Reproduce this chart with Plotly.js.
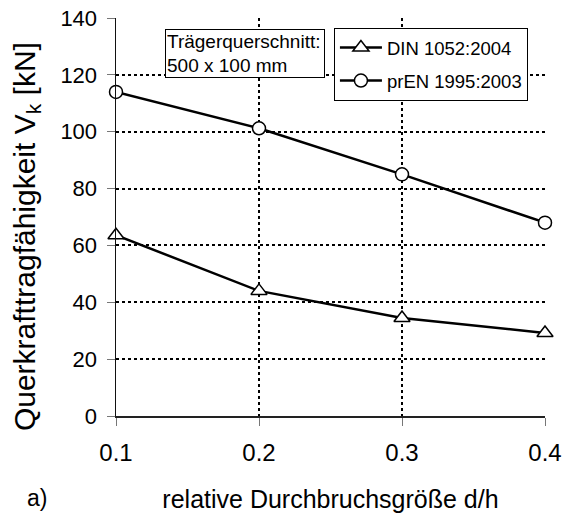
<!DOCTYPE html>
<html>
<head>
<meta charset="utf-8">
<script src="https://cdn.plot.ly/plotly-3.0.1.min.js"></script>
<style>body{margin:0;padding:0;background:#fff;} #chart{width:565px;height:514px;}</style>
</head>
<body>
<div id="chart"></div>
<script>
const xValues = [0.1, 0.2, 0.3, 0.4];
const dinValues = [63.6, 44, 34.5, 29.2];
const prenValues = [114, 101.2, 85, 68];
const seriesNames = ["DIN 1052:2004", "prEN 1995:2003"];
const xTicks = [0.1, 0.2, 0.3, 0.4];
const xTickLabels = ["0.1", "0.2", "0.3", "0.4"];
const yTicks = [0, 20, 40, 60, 80, 100, 120, 140];
const yTitle = "Querkrafttragfähigkeit V<sub>k</sub> [kN]";
const xTitle = "relative Durchbruchsgröße d/h";
const boxText = "Trägerquerschnitt:<br>500 x 100 mm";
const panelLabel = "a)";

const fontFam = "Liberation Sans, Arial, sans-serif";

const traces = [
  {
    x: xValues, y: dinValues, name: seriesNames[0], mode: "lines+markers",
    legendgroup: "g1", cliponaxis: false,
    line: {color: "#000", width: 2.5},
    marker: {symbol: "triangle-up", size: 14, color: "#fff", line: {color: "#000", width: 1.5}}
  },
  {
    x: xValues, y: prenValues, name: seriesNames[1], mode: "lines+markers",
    legendgroup: "g2", cliponaxis: false,
    line: {color: "#000", width: 2.5},
    marker: {symbol: "circle", size: 13, color: "#fff", line: {color: "#000", width: 1.5}}
  }
];

const layout = {
  width: 565, height: 514,
  margin: {l: 116, r: 20, t: 18, b: 98},
  paper_bgcolor: "#fff", plot_bgcolor: "#fff",
  font: {family: fontFam, color: "#000", size: 22},
  showlegend: true,
  legend: {
    x: 0.508, y: 0.975, xanchor: "left", yanchor: "top",
    bordercolor: "#000", borderwidth: 1, bgcolor: "#fff",
    font: {size: 18.5, family: fontFam},
    traceorder: "grouped", tracegroupgap: 6, itemwidth: 42
  },
  xaxis: {
    range: [0.1, 0.4], tickvals: xTicks, ticktext: xTickLabels,
    showline: true, linecolor: "#222", linewidth: 2,
    ticks: "outside", ticklen: 8, tickcolor: "#777", tickwidth: 1,
    ticklabelstandoff: 6,
    showgrid: true, gridcolor: "#000", gridwidth: 2, griddash: "dot",
    zeroline: false,
    tickfont: {size: 24},
    title: {text: xTitle, font: {size: 25}, standoff: 26}
  },
  yaxis: {
    range: [0, 140], tickvals: yTicks,
    showline: true, linecolor: "#111", linewidth: 1.5,
    ticks: "outside", ticklen: 8, tickcolor: "#777", tickwidth: 1,
    ticklabelstandoff: 5,
    showgrid: true, gridcolor: "#000", gridwidth: 2, griddash: "dot",
    zeroline: false,
    tickfont: {size: 22}
  },
  annotations: [
    {
      xref: "paper", yref: "paper", x: -0.2098, y: 0.452, xanchor: "center", yanchor: "middle",
      text: yTitle, textangle: -90, showarrow: false,
      font: {size: 30, family: fontFam}
    },
    {
      xref: "paper", yref: "paper", x: 0.114, y: 0.972, xanchor: "left", yanchor: "top",
      text: boxText, showarrow: false, align: "left",
      width: 156, height: 45,
      font: {size: 19, family: fontFam},
      bordercolor: "#000", borderwidth: 1, bgcolor: "#fff", borderpad: 1
    },
    {
      xref: "paper", yref: "paper", x: -0.212, y: -0.206, xanchor: "left", yanchor: "middle",
      text: panelLabel, showarrow: false, font: {size: 23, family: fontFam}
    }
  ]
};

Plotly.newPlot("chart", traces, layout, {displayModeBar: false, staticPlot: true});
</script>
</body>
</html>
